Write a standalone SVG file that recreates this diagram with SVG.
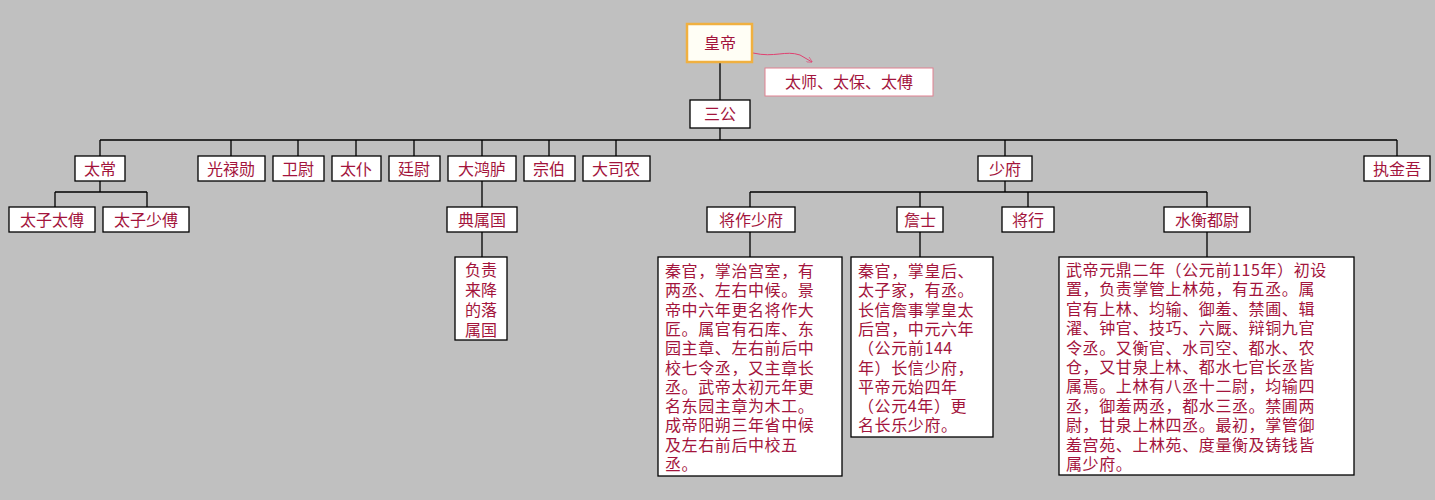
<svg xmlns="http://www.w3.org/2000/svg" width="1435" height="500" viewBox="0 0 1435 500">
<style>
text{font-family:"Noto Sans CJK SC","Liberation Sans",sans-serif;fill:#a3143c;font-size:16px}
.b{fill:#fff;stroke:#000;stroke-width:1.3}
.c{stroke:#000;stroke-width:1.3;fill:none}
.m{text-anchor:middle}
.t{font-size:16px;letter-spacing:0.6px}
</style>
<defs><marker id="a" viewBox="0 0 10 10" refX="9" refY="5" markerWidth="6" markerHeight="6" orient="auto"><path d="M0,0L10,5L0,10" fill="none" stroke="#e04070"/></marker></defs>
<rect width="1435" height="500" fill="#c0c0c0"/>
<g id="connectors">
<path class="c" d="M720,62V100M720,128V140M100,140H1397M100,140V156M231,140V156M298,140V156M356,140V156M414,140V156M482,140V156M549,140V156M616,140V156M1005,140V156M1397,140V156M100,181V192M55,192H147M55,192V207M147,192V207M482,181V207M482,232V257M1005,181V192M750,192H1207M750,192V207M920,192V207M1028,192V207M1207,192V207M750,232V257M920,232V257M1207,232V257"/>
<path d="M753,53C775,58 785,50 800,55 L812,62" fill="none" stroke="#e04070" stroke-width="1" marker-end="url(#a)"/>
</g>
<g id="huangdi"><rect x="687" y="24" width="65" height="38" fill="#fffef5" stroke="#f0b040" stroke-width="2.5"/><text class="m" x="720" y="49">皇帝</text></g>
<g id="taishi"><rect x="765" y="68" width="168" height="28" fill="#fff" stroke="#e08090" stroke-width="1"/><text class="m" x="849" y="88">太师、太保、太傅</text></g>
<g id="sangong"><rect class="b" x="690" y="100" width="60" height="28"/><text class="m" x="720" y="120">三公</text></g>
<g id="taichang"><rect class="b" x="75" y="156" width="50" height="25"/><text class="m" x="100" y="175">太常</text></g>
<g id="guanglu"><rect class="b" x="198" y="156" width="67" height="25"/><text class="m" x="231" y="175">光禄勋</text></g>
<g id="weiwei"><rect class="b" x="273" y="156" width="51" height="25"/><text class="m" x="298" y="175">卫尉</text></g>
<g id="taipu"><rect class="b" x="332" y="156" width="49" height="25"/><text class="m" x="356" y="175">太仆</text></g>
<g id="tingwei"><rect class="b" x="389" y="156" width="51" height="25"/><text class="m" x="414" y="175">廷尉</text></g>
<g id="dahonglu"><rect class="b" x="448" y="156" width="68" height="25"/><text class="m" x="482" y="175">大鸿胪</text></g>
<g id="zongbo"><rect class="b" x="524" y="156" width="51" height="25"/><text class="m" x="549" y="175">宗伯</text></g>
<g id="dasinong"><rect class="b" x="583" y="156" width="67" height="25"/><text class="m" x="616" y="175">大司农</text></g>
<g id="shaofu"><rect class="b" x="978" y="156" width="54" height="25"/><text class="m" x="1005" y="175">少府</text></g>
<g id="zhijinwu"><rect class="b" x="1364" y="156" width="66" height="25"/><text class="m" x="1397" y="175">执金吾</text></g>
<g id="taizitaifu"><rect class="b" x="9" y="207" width="86" height="25"/><text class="m" x="52" y="226">太子太傅</text></g>
<g id="taizishaofu"><rect class="b" x="103" y="207" width="86" height="25"/><text class="m" x="146" y="226">太子少傅</text></g>
<g id="dianshuguo"><rect class="b" x="447" y="207" width="70" height="25"/><text class="m" x="482" y="226">典属国</text></g>
<g id="dianshuguo-desc"><rect class="b" x="455" y="257" width="52" height="83"/><text class="m" x="481" y="276">负责</text><text class="m" x="481" y="296">来降</text><text class="m" x="481" y="316">的落</text><text class="m" x="481" y="336">属国</text></g>
<g id="jiangzuo"><rect class="b" x="707" y="207" width="88" height="25"/><text class="m" x="751" y="226">将作少府</text></g>
<g id="zhanshi"><rect class="b" x="897" y="207" width="46" height="25"/><text class="m" x="920" y="226">詹士</text></g>
<g id="jiangxing"><rect class="b" x="1002" y="207" width="52" height="25"/><text class="m" x="1028" y="226">将行</text></g>
<g id="shuiheng"><rect class="b" x="1164" y="207" width="86" height="25"/><text class="m" x="1207" y="226">水衡都尉</text></g>
<g id="jiangzuo-desc"><rect class="b" x="658" y="257" width="184" height="219"/>
<text class="t" x="665" y="277">秦官，掌治宫室，有</text>
<text class="t" x="665" y="296.3">两丞、左右中候。景</text>
<text class="t" x="665" y="315.6">帝中六年更名将作大</text>
<text class="t" x="665" y="334.9">匠。属官有石库、东</text>
<text class="t" x="665" y="354.2">园主章、左右前后中</text>
<text class="t" x="665" y="373.5">校七令丞，又主章长</text>
<text class="t" x="665" y="392.8">丞。武帝太初元年更</text>
<text class="t" x="665" y="412.1">名东园主章为木工。</text>
<text class="t" x="665" y="431.4">成帝阳朔三年省中候</text>
<text class="t" x="665" y="450.7">及左右前后中校五</text>
<text class="t" x="665" y="470">丞。</text></g>
<g id="zhanshi-desc"><rect class="b" x="851" y="257" width="142" height="180"/>
<text class="t" x="858" y="277">秦官，掌皇后、</text>
<text class="t" x="858" y="296.3">太子家，有丞。</text>
<text class="t" x="858" y="315.6">长信詹事掌皇太</text>
<text class="t" x="858" y="334.9">后宫，中元六年</text>
<text class="t" x="858" y="354.2">（公元前144</text>
<text class="t" x="858" y="373.5">年）长信少府，</text>
<text class="t" x="858" y="392.8">平帝元始四年</text>
<text class="t" x="858" y="412.1">（公元4年）更</text>
<text class="t" x="858" y="431.4">名长乐少府。</text></g>
<g id="shuiheng-desc"><rect class="b" x="1059" y="257" width="295" height="218"/>
<text class="t" x="1066" y="276">武帝元鼎二年（公元前115年）初设</text>
<text class="t" x="1066" y="295.4">置，负责掌管上林苑，有五丞。属</text>
<text class="t" x="1066" y="314.8">官有上林、均输、御羞、禁圃、辑</text>
<text class="t" x="1066" y="334.2">濯、钟官、技巧、六厩、辩铜九官</text>
<text class="t" x="1066" y="353.6">令丞。又衡官、水司空、都水、农</text>
<text class="t" x="1066" y="373">仓，又甘泉上林、都水七官长丞皆</text>
<text class="t" x="1066" y="392.4">属焉。上林有八丞十二尉，均输四</text>
<text class="t" x="1066" y="411.8">丞，御羞两丞，都水三丞。禁圃两</text>
<text class="t" x="1066" y="431.2">尉，甘泉上林四丞。最初，掌管御</text>
<text class="t" x="1066" y="450.6">羞宫苑、上林苑、度量衡及铸钱皆</text>
<text class="t" x="1066" y="470">属少府。</text></g>
</svg>
